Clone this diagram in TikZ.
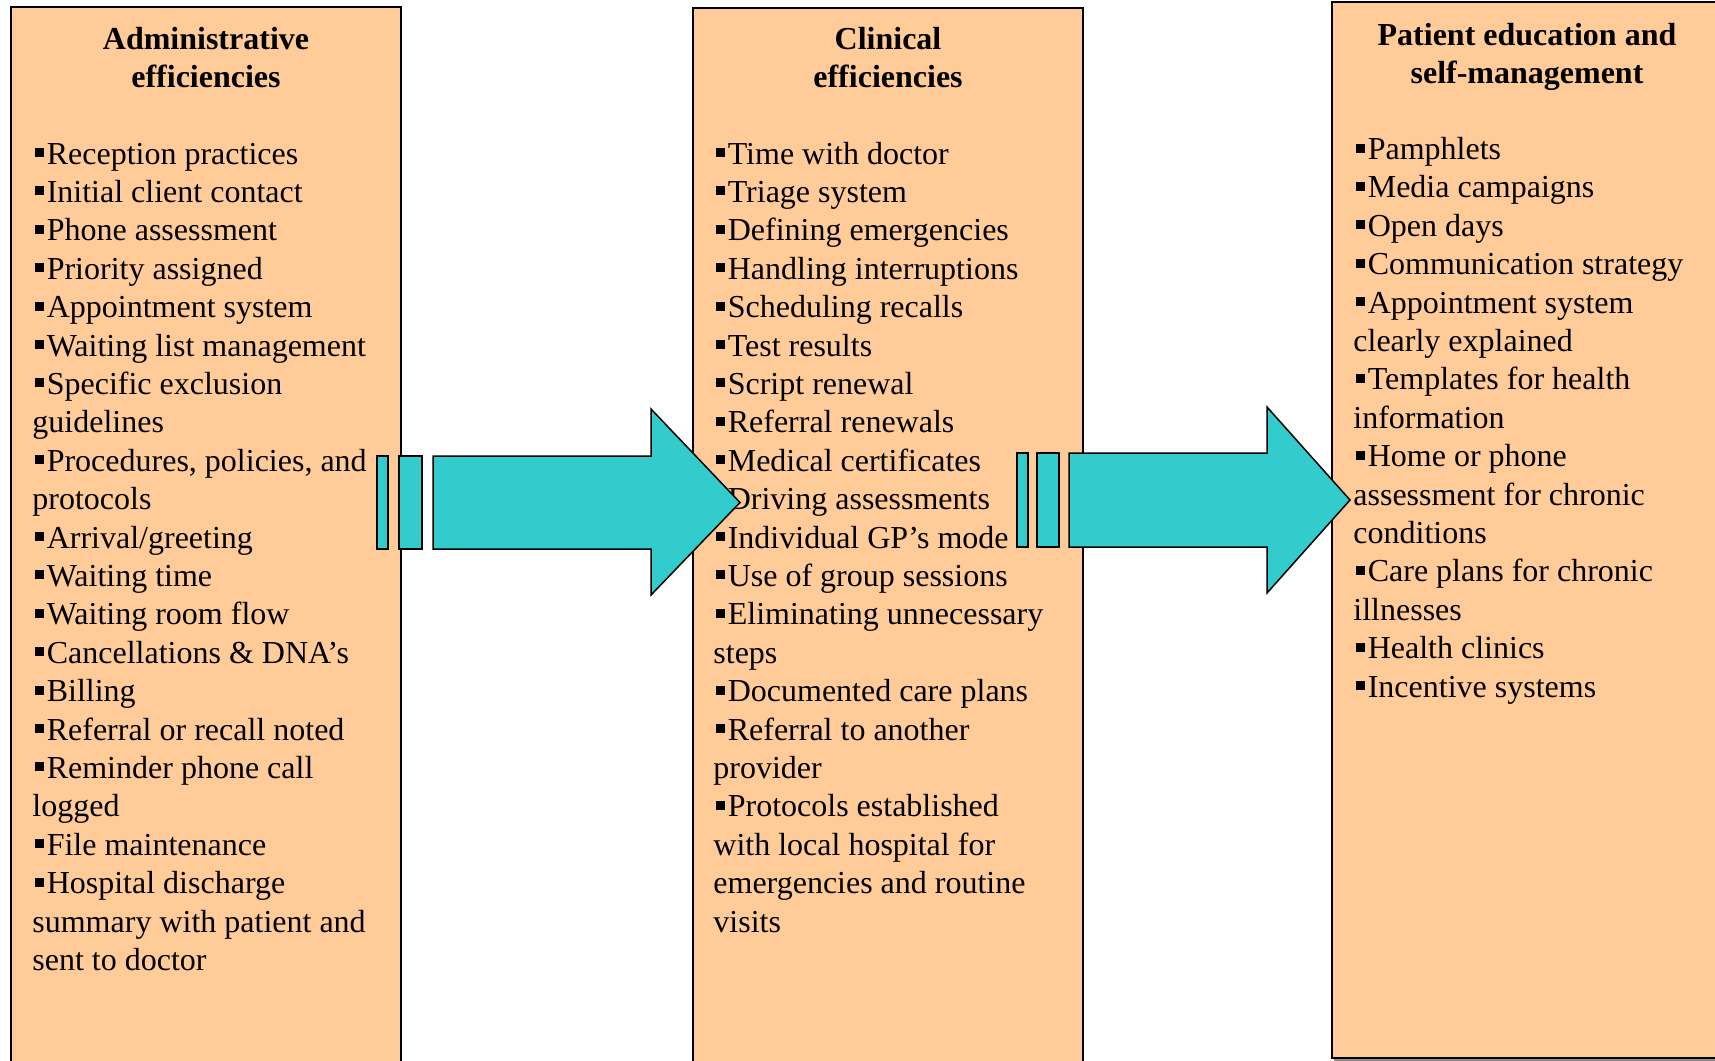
\documentclass[tikz,border=0pt]{standalone}
\usepackage{fontspec}
\setmainfont{Liberation Serif}
\definecolor{peach}{HTML}{FFCC99}
\definecolor{teal2}{HTML}{33CCCC}
\newcommand\bul{\hspace*{1.5pt}\rule[3.5pt]{4.5pt}{4.5pt}\hspace*{1.2pt}}
\tikzset{
  colbox/.style={draw=black, line width=0.75pt, fill=peach},
  blockarrow/.style={draw=black, line width=0.75pt, fill=teal2},
  itemtxt/.style={anchor=base west, inner sep=0pt, font=\fontsize{16}{19.2}\selectfont},
  titletxt/.style={anchor=base, inner sep=0pt, font=\fontsize{16}{19.2}\selectfont\bfseries},
}
\begin{document}
\begin{tikzpicture}[x=0.5pt,y=-0.5pt]
\useasboundingbox (0,0) rectangle (1715,1061);
\clip (0,0) rectangle (1715,1061);
\fill[white] (0,0) rectangle (1715,1061);
% boxes
\draw[colbox] (11,7) rectangle (401,1075);
\draw[colbox] (693,8) rectangle (1083,1075);
\fill[black!45] (1334,1058) rectangle (1725,1062);
\draw[colbox] (1332,2) rectangle (1722,1058);
% titles
\node[titletxt] (t1a) at (206,49.5) {Administrative};
\node[titletxt] (t1b) at (206,87.5) {efficiencies};
\node[titletxt] (t2a) at (888,49.5) {Clinical};
\node[titletxt] (t2b) at (888,87.5) {efficiencies};
\node[titletxt] (t3a) at (1527,45) {Patient education and};
\node[titletxt] (t3b) at (1527,83) {self-management};
% box 1 items
\foreach \t [count=\r from 0] in {
 {\bul Reception practices},
 {\bul Initial client contact},
 {\bul Phone assessment},
 {\bul Priority assigned},
 {\bul Appointment system},
 {\bul Waiting list management},
 {\bul Specific exclusion},
 {guidelines},
 {\bul Procedures, policies, and},
 {protocols},
 {\bul Arrival/greeting},
 {\bul Waiting time},
 {\bul Waiting room flow},
 {\bul Cancellations \& DNA’s},
 {\bul Billing},
 {\bul Referral or recall noted},
 {\bul Reminder phone call},
 {logged},
 {\bul File maintenance},
 {\bul Hospital discharge},
 {summary with patient and},
 {sent to doctor}}
 \node[itemtxt] (a\r) at (32,{164+38.4*\r}) {\t};
% box 2 items
\foreach \t [count=\r from 0] in {
 {\bul Time with doctor},
 {\bul Triage system},
 {\bul Defining emergencies},
 {\bul Handling interruptions},
 {\bul Scheduling recalls},
 {\bul Test results},
 {\bul Script renewal},
 {\bul Referral renewals},
 {\bul Medical certificates},
 {\bul Driving assessments},
 {\bul Individual GP’s mode},
 {\bul Use of group sessions},
 {\bul Eliminating unnecessary},
 {steps},
 {\bul Documented care plans},
 {\bul Referral to another},
 {provider},
 {\bul Protocols established},
 {with local hospital for},
 {emergencies and routine},
 {visits}}
 \node[itemtxt] (b\r) at (713,{164+38.4*\r}) {\t};
% box 3 items
\foreach \t [count=\r from 0] in {
 {\bul Pamphlets},
 {\bul Media campaigns},
 {\bul Open days},
 {\bul Communication strategy},
 {\bul Appointment system},
 {clearly explained},
 {\bul Templates for health},
 {information},
 {\bul Home or phone},
 {assessment for chronic},
 {conditions},
 {\bul Care plans for chronic},
 {illnesses},
 {\bul Health clinics},
 {\bul Incentive systems}}
 \node[itemtxt] (c\r) at (1353,{159.5+38.4*\r}) {\t};
% arrow 1
\draw[blockarrow] (377,456) rectangle (388,549);
\draw[blockarrow] (399,456) rectangle (422,549);
\draw[blockarrow] (433,456) -- (651,456) -- (651,409) -- (740,502.5) -- (651,595) -- (651,549) -- (433,549) -- cycle;
% arrow 2
\draw[blockarrow] (1017,453) rectangle (1028,547);
\draw[blockarrow] (1037,453) rectangle (1059,547);
\draw[blockarrow] (1069,453) -- (1267,453) -- (1267,407) -- (1350,500) -- (1267,593) -- (1267,547) -- (1069,547) -- cycle;
\end{tikzpicture}
\end{document}
